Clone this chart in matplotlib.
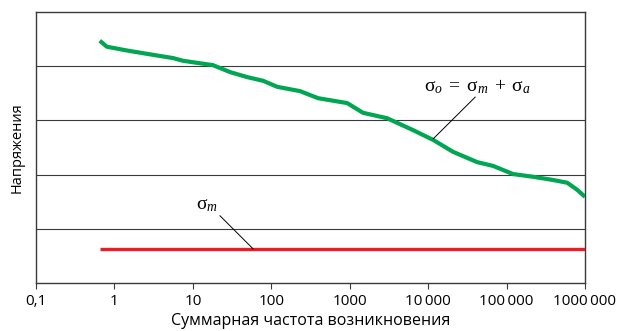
import numpy as np
import matplotlib
matplotlib.use('Agg')
from matplotlib import pyplot as plt

plt.rcParams['font.family'] = ['Open Sans', 'DejaVu Sans']
plt.rcParams['mathtext.fontset'] = 'custom'
plt.rcParams['mathtext.rm'] = 'Liberation Serif'
plt.rcParams['mathtext.it'] = 'Liberation Serif:italic'

# cumulative frequency vs stress
freq_o = [0.65, 0.80, 1.44, 3.1, 5.6, 7.5, 18, 30, 49, 79, 119, 233, 395, 927,
          1480, 3000, 4400, 6440, 11600, 20800, 42200, 67500, 121000, 218000,
          393000, 593000, 795000, 1000000]
stress_o = [4.47, 4.36, 4.29, 4.21, 4.15, 4.10, 4.02, 3.89, 3.80, 3.73, 3.62,
            3.54, 3.41, 3.32, 3.14, 3.04, 2.93, 2.82, 2.64, 2.42, 2.23, 2.16,
            2.01, 1.96, 1.90, 1.85, 1.72, 1.59]
freq_m = [0.65, 1000000]
stress_m = [0.63, 0.63]

tick_vals = [0.1, 1, 10, 100, 1000, 1e4, 1e5, 1e6]
tick_labels = ['0,1', '1', '10', '100', '1000', '10\u2009000', '100\u2009000', '1000\u2009000']
grid_vals = [1, 2, 3, 4]

fig = plt.figure(figsize=(6.22, 3.31), dpi=100)
ax = fig.add_axes([0.0579, 0.145, 0.8826, 0.8187])

for g in grid_vals:
    ax.axhline(g, color='#3a3a3a', lw=0.8, zorder=1)

ax.plot(freq_o, stress_o, color='#00a651', lw=3.0, solid_capstyle='butt',
        solid_joinstyle='round', zorder=3)
ax.plot(freq_m, stress_m, color='#ed1c24', lw=2.4, solid_capstyle='butt', zorder=3)

ax.set_xscale('log')
ax.set_xlim(0.1, 1e6)
ax.set_ylim(0, 5)
ax.set_xticks(tick_vals)
ax.set_xticklabels(tick_labels, fontsize=11)
ax.minorticks_off()
ax.tick_params(axis='x', direction='out', length=4, width=0.8, color='#3a3a3a', pad=4)
ax.set_yticks([])
for s in ax.spines.values():
    s.set_color('#3a3a3a')
    s.set_linewidth(1.0)

ax.set_xlabel('Суммарная частота возникновения', fontsize=11.5, labelpad=3)
ax.set_ylabel('Напряжения', fontsize=10.5, labelpad=8)

# labels with leader lines
ax.text(42200, 3.62, r'$\mathrm{σ}_{o}\;=\;\mathrm{σ}_{m}\;+\;\mathrm{σ}_{a}$',
        ha='center', va='center', fontsize=14)
ax.plot([11600, 39800], [2.66, 3.43], color='black', lw=0.7, zorder=4)
ax.text(15.2, 1.44, r'$\mathrm{σ}_{m}$', ha='center', va='center', fontsize=14)
ax.plot([22.2, 58.6], [1.24, 0.63], color='black', lw=0.7, zorder=4)

fig.savefig('out.png', dpi=100)
